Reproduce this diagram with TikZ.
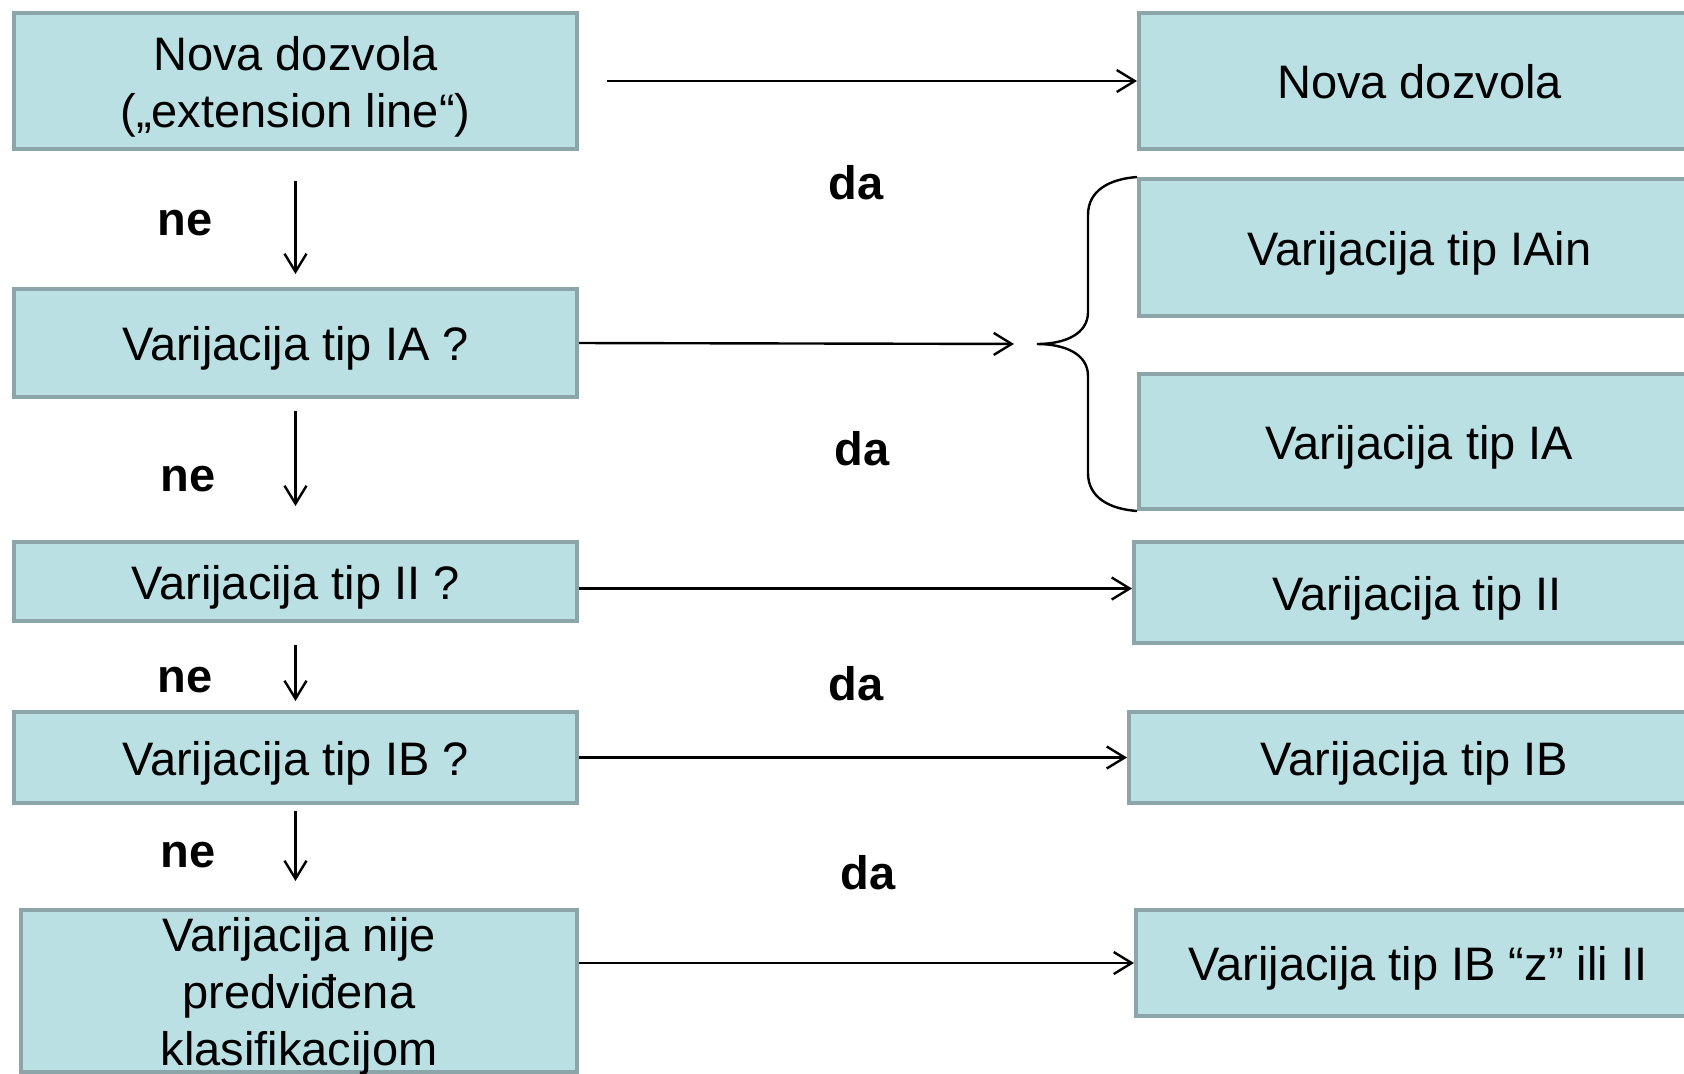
\documentclass[tikz,border=0pt]{standalone}
\usepackage{fontspec}
\setmainfont{Liberation Sans}
\usetikzlibrary{arrows.meta}
\definecolor{boxfill}{RGB}{187,224,228}
\definecolor{boxline}{RGB}{139,165,168}
\begin{document}
\begin{tikzpicture}[x=0.5pt, y=-0.5pt,
    box/.style={draw=boxline, fill=boxfill, line width=2pt, align=center,
        inner sep=0pt, font=\fontsize{23.5}{28.5}\selectfont},
    one/.style={box, text height=22.5pt, text depth=5pt},
    lbl/.style={inner sep=0pt, font=\fontsize{23.5}{28.5}\selectfont\bfseries},
    arr/.style={line width=1.2pt, -{Straight Barb[length=9pt, width=11pt]}}]
    \useasboundingbox (0, 0) rectangle (1684, 1073);
    \node[box, minimum width=281.5pt, minimum height=68pt] (q0) at(295.5, 81)
        {\rule{0pt}{22.5pt}Nova dozvola\\(„extension line“)};
    \node[one, minimum width=281.5pt, minimum height=54pt] (q1) at(295.5, 343)
        {Varijacija tip IA ?};
    \node[one, minimum width=281.5pt, minimum height=39.5pt] (q2) at(295.5, 581.5)
        {Varijacija tip II ?};
    \node[one, minimum width=281.5pt, minimum height=45.5pt] (q3) at(295.5, 757.5)
        {Varijacija tip IB ?};
    \node[box, inner ysep=-2pt, minimum width=278pt, minimum height=81pt] (q4) at(299, 991)
        {\rule{0pt}{22.5pt}Varijacija nije\\predviđena\\klasifikacijom};
    \node[one, minimum width=280.5pt, minimum height=68pt] (r0) at(1419.5, 81)
        {Nova dozvola};
    \node[one, minimum width=280.5pt, minimum height=68.5pt] (r1a) at(1419.5, 247.5)
        {Varijacija tip IAin};
    \node[one, minimum width=280.5pt, minimum height=67.5pt] (r1b) at(1419.5, 441.5)
        {Varijacija tip IA};
    \node[one, minimum width=283pt, minimum height=50.5pt] (r2) at(1417, 592.5)
        {Varijacija tip II};
    \node[one, minimum width=285.5pt, minimum height=45.5pt] (r3) at(1414.5, 757.5)
        {Varijacija tip IB};
    \node[one, minimum width=282pt, minimum height=53pt] (r4) at(1418, 963)
        {Varijacija tip IB “z” ili II};
    \node[lbl] (ne0) at(185, 223.5) {ne};
    \node[lbl] (ne1) at(188, 479.5) {ne};
    \node[lbl] (ne2) at(185, 680.5) {ne};
    \node[lbl] (ne3) at(188, 855.5) {ne};
    \node[lbl] (da0) at(856, 183) {da};
    \node[lbl] (da1) at(862, 449) {da};
    \node[lbl] (da2) at(856, 684) {da};
    \node[lbl] (da3) at(868, 873) {da};
    \coordinate (tip) at(1037, 344);
    \draw[arr, shorten <=15pt, shorten >=6.5pt] (q0) -- (q1);
    \draw[arr, shorten <=6pt, shorten >=17pt] (q1) -- (q2);
    \draw[arr, shorten <=11pt, shorten >=4.5pt] (q2) -- (q3);
    \draw[arr, shorten <=3pt, shorten >=13.5pt] (q3.south) -- (q3.south |- q4.north);
    \draw[arr, shorten <=14pt] (q0) -- (r0);
    \draw[arr, shorten >=11.5pt] (q1.east) -- (tip);
    \draw[arr] ([yshift=-3.5pt]q2.east) -- ([yshift=-3.5pt]q2.east -| r2.west);
    \draw[arr] (q3) -- (r3);
    \draw[arr] (r4.west -| q4.east) -- (r4.west);
    \draw[line width=1.2pt] (r1a.north west) .. controls (1110, 179) and (1088, 190)
        .. (1088, 215) -- (1088, 312) .. controls (1088, 334) and (1065, 344)
        .. (tip) .. controls (1065, 344) and (1088, 354) .. (1088, 376)
        -- (1088, 473) .. controls (1088, 498) and (1110, 509) .. (r1b.south west);
\end{tikzpicture}
\end{document}
